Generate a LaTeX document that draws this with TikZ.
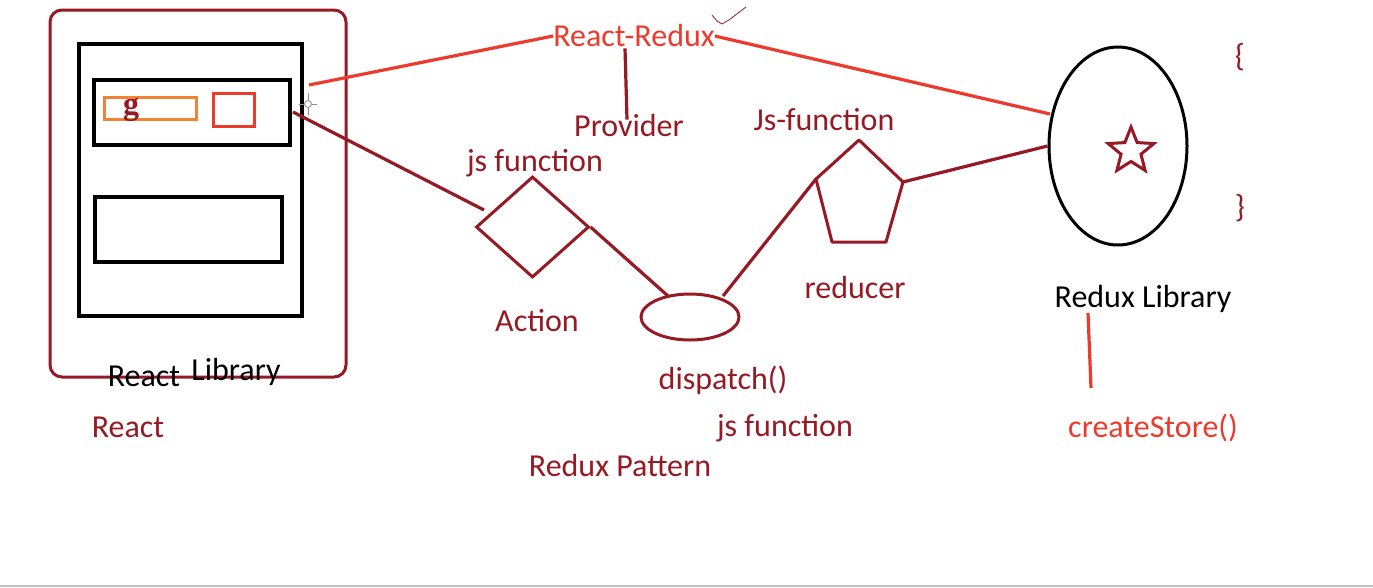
\documentclass[tikz,border=0pt]{standalone}
\usepackage{fontspec}
\setmainfont{Carlito}
\newfontfamily\serifg{Liberation Serif}
\usetikzlibrary{shapes.geometric}
\definecolor{maroon}{RGB}{150,26,36}
\definecolor{brightred}{RGB}{236,58,44}
\definecolor{orng}{RGB}{244,130,50}
\tikzset{
  lbl/.style={font=\fontsize{32}{38}\selectfont, text=maroon, inner sep=0pt},
  redlbl/.style={lbl, text=brightred},
  blklbl/.style={lbl, text=black},
  conn/.style={draw=maroon, line width=3.2pt},
  redconn/.style={draw=brightred, line width=3.2pt},
  blkbox/.style={draw=black, line width=4pt, inner sep=0pt},
}
\begin{document}
\begin{tikzpicture}[x=1pt,y=-1pt]
\useasboundingbox (0,0) rectangle (1373,587);
\fill[white] (0,0) rectangle (1373,587);
\draw[black!25, line width=1.2pt] (0,586) -- (1373,586);

% React side
\node[draw=maroon, line width=3pt, rounded corners=12pt, minimum width=296pt, minimum height=367pt, inner sep=0pt] (outer) at (198,193.5) {};
\node[blkbox, minimum width=223pt, minimum height=272pt] (page) at (190.5,180) {};
\node[blkbox, minimum width=196pt, minimum height=65pt] (hdr) at (192,112.5) {};
\node[draw=orng, line width=3pt, minimum width=92pt, minimum height=22pt, inner sep=0pt] (inp) at (150,108) {};
\node[draw=brightred, line width=3pt, minimum width=41pt, minimum height=33pt, inner sep=0pt] (btn) at (233.5,109.5) {};
\node[font=\serifg\bfseries\fontsize{32}{38}\selectfont, text=maroon, inner sep=0pt] (g) at (131,110) {g};
\node[blkbox, minimum width=187pt, minimum height=65pt] (body) at (188.5,229.5) {};
\node[blklbl] (reactw) at (144,376) {React};
\node[blklbl] (libw) at (236,372) {Library};
\node[lbl] (react) at (128,427) {React};

% cursor
\coordinate (cur) at (308,104);
\draw[black!45, line width=1pt] ([xshift=-9pt]cur) -- ([xshift=9pt]cur) ([yshift=-11pt]cur) -- ([yshift=11pt]cur);
\draw[black!45, fill=white, line width=0.8pt] (cur) circle (3.5pt);

% Redux pattern shapes
\node[draw=maroon, line width=3pt, shape=diamond, aspect=1.12, minimum width=113pt, minimum height=101pt, inner sep=0pt] (action) at (532.5,227) {};
\node[draw=maroon, line width=3pt, shape=ellipse, minimum width=98pt, minimum height=46pt, inner sep=0pt] (disp) at (690,317) {};
\coordinate (pt) at (859,140);
\coordinate (pul) at (816,179);
\coordinate (pur) at (903,182);
\coordinate (pbr) at (886,242);
\coordinate (pbl) at (832,242);
\draw[maroon, line width=3pt, line join=round] (pt) -- (pur) -- (pbr) -- (pbl) -- (pul) -- cycle;
\node[draw=black, line width=3pt, shape=ellipse, minimum width=138pt, minimum height=198pt, inner sep=0pt] (store) at (1118,146) {};
\node[draw=maroon, line width=3pt, shape=star, star points=5, star point ratio=2.3, minimum size=48pt, inner sep=0pt] (star) at (1131,151) {};

% connectors
\coordinate (hdrR) at (293,112);
\coordinate (actL) at (484,210);
\draw[conn] (hdrR) -- (actL);
\coordinate (dispT) at (668,296);
\draw[conn] (action.east) -- (dispT);
\coordinate (dispR) at (723,296);
\draw[conn] (dispR) -- (pul);
\draw[conn] (pur) -- (store.west);

% React-Redux
\node[redlbl] (rr) at (634,36) {React-Redux};
\coordinate (rrL) at (309,85);
\coordinate (rrR) at (1050,114);
\draw[redconn] (rrL) -- (rr.west);
\draw[redconn] (rr.east) -- (rrR);
\node[lbl] (prov) at (629,125) {Provider};
\draw[conn] ([xshift=-9pt,yshift=-1pt]rr.south) -- ([xshift=-2pt,yshift=-6pt]prov.north);
\draw[maroon, line width=0.8pt] (712,15) -- (717,21) -- (722,24) -- (729,20) -- (738,13) -- (746,7);

% labels
\node[lbl] (jsf1) at (535,163) {js function};
\node[lbl] (jsf2) at (824,120) {Js-function};
\node[lbl] (actlbl) at (537,321) {Action};
\node[lbl] (red) at (855,288) {reducer};
\node[lbl] (displbl) at (723,380) {dispatch()};
\node[lbl] (jsf3) at (785,428) {js function};
\node[lbl] (pattern) at (620,465) {Redux Pattern};
\node[blklbl] (rlib) at (1143,299) {Redux Library};
\node[redlbl] (cs) at (1153,428) {createStore()};
\coordinate (rlibL) at (1088,313);
\coordinate (csT) at (1091,388);
\draw[redconn] (rlibL) -- (csT);
\node[lbl] (lb) at (1240,57) {\{};
\node[lbl] (rb) at (1240,208) {\}};
\end{tikzpicture}
\end{document}
